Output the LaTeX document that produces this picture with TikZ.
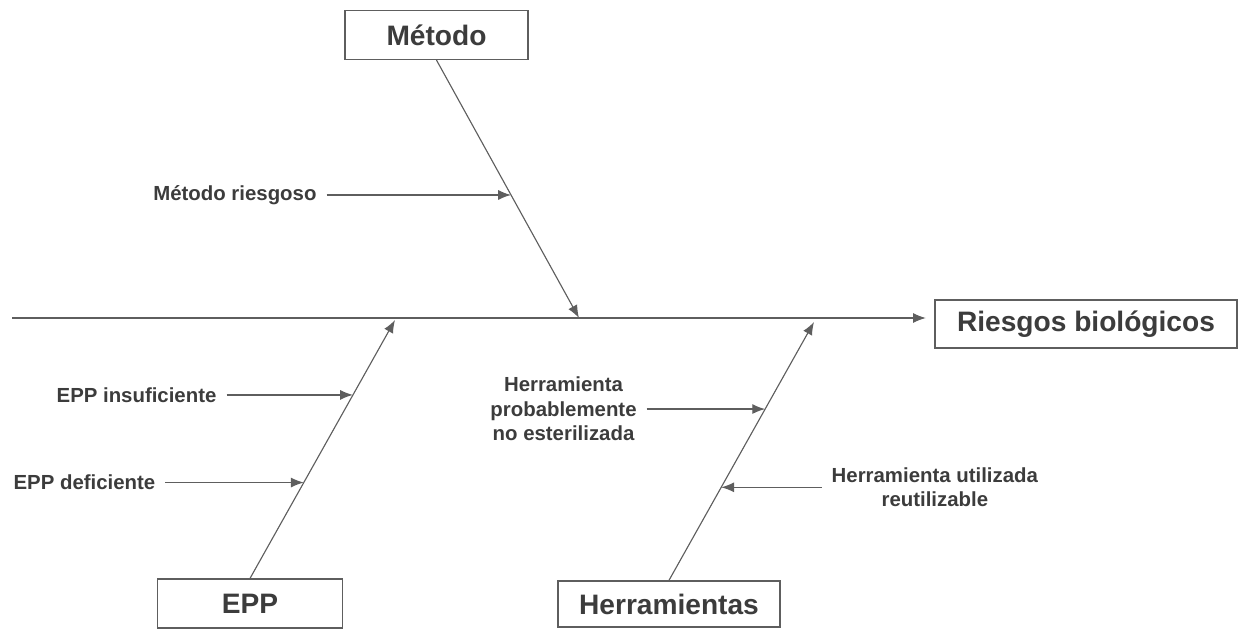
\documentclass[tikz,border=0pt]{standalone}
\usepackage{fontspec}
\setmainfont{Liberation Sans}
\usepackage{tikz}
\usetikzlibrary{positioning,arrows.meta}
\definecolor{inkgray}{HTML}{3C3C3C}
\definecolor{linegray}{HTML}{5E5E5E}
\tikzset{
  spinearrow/.style={-{Latex[length=3.2mm,width=2.5mm]}, line width=0.8pt, draw=linegray},
  bonearrow/.style={-{Latex[length=3.2mm,width=2.5mm]}, line width=0.8pt, draw=linegray},
  causearrow/.style={-{Latex[length=3.2mm,width=2.5mm]}, line width=0.9pt, draw=linegray, shorten <=4pt},
  catbox/.style={draw=linegray, line width=1pt, fill=white, text=inkgray, minimum height=1.22cm, align=center,
    font=\fontsize{20}{24}\selectfont\bfseries},
  causelabel/.style={text=inkgray, align=center, inner sep=3pt,
    font=\fontsize{14.5}{17.5}\selectfont\bfseries}
}

\begin{document}
\begin{tikzpicture}[>=Latex, x=0.025cm, y=-0.025cm]
  \useasboundingbox (0,0) rectangle (1241,630);
  % category boxes and effect
  \node[catbox, minimum width=4.58cm] (metodo) at (436.5,35) {Método};
  \node[catbox, minimum width=4.63cm] (epp) at (250,603.5) {EPP};
  \node[catbox, minimum width=5.55cm, minimum height=1.15cm] (herr) at (669,604) {Herramientas};
  \node[catbox, minimum width=7.55cm, minimum height=1.2cm] (riesgos) at (1086,324) {Riesgos biológicos};

  % spine
  \coordinate (tail) at (12,318);
  \draw[spinearrow, shorten >=6pt] (tail) -- (tail -| riesgos.west);

  % bones
  \coordinate (mtip) at (579,318);
  \coordinate (etip) at (395,320);
  \coordinate (htip) at (814,322);
  \draw[bonearrow] (metodo.south) -- (mtip);
  \draw[bonearrow] (epp.north) -- (etip);
  \draw[bonearrow] (herr.north) -- (htip);

  % points on the bones
  \path (metodo.south) -- (mtip) coordinate[pos=0.523] (m1);
  \path (epp.north) -- (etip) coordinate[pos=0.71] (e1);
  \path (epp.north) -- (etip) coordinate[pos=0.371] (e2);
  \path (herr.north) -- (htip) coordinate[pos=0.663] (h1);
  \path (herr.north) -- (htip) coordinate[pos=0.36] (h2);

  % causes
  \node[causelabel, left=4.75cm of m1] (riesgoso) {Método riesgoso};
  \node[causelabel, left=3.3cm of e1] (insuf) {EPP insuficiente};
  \node[causelabel, left=3.6cm of e2] (defic) {EPP deficiente};
  \node[causelabel, left=3.1cm of h1] (noester) {Herramienta\\probablemente\\no esterilizada};
  \node[causelabel, right=2.65cm of h2] (reutil) {Herramienta utilizada\\reutilizable};

  \draw[causearrow] (riesgoso) -- (m1);
  \draw[causearrow] (insuf) -- (e1);
  \draw[causearrow] (defic) -- (e2);
  \draw[causearrow] (noester) -- (h1);
  \draw[causearrow] (reutil) -- (h2);
\end{tikzpicture}
\end{document}
